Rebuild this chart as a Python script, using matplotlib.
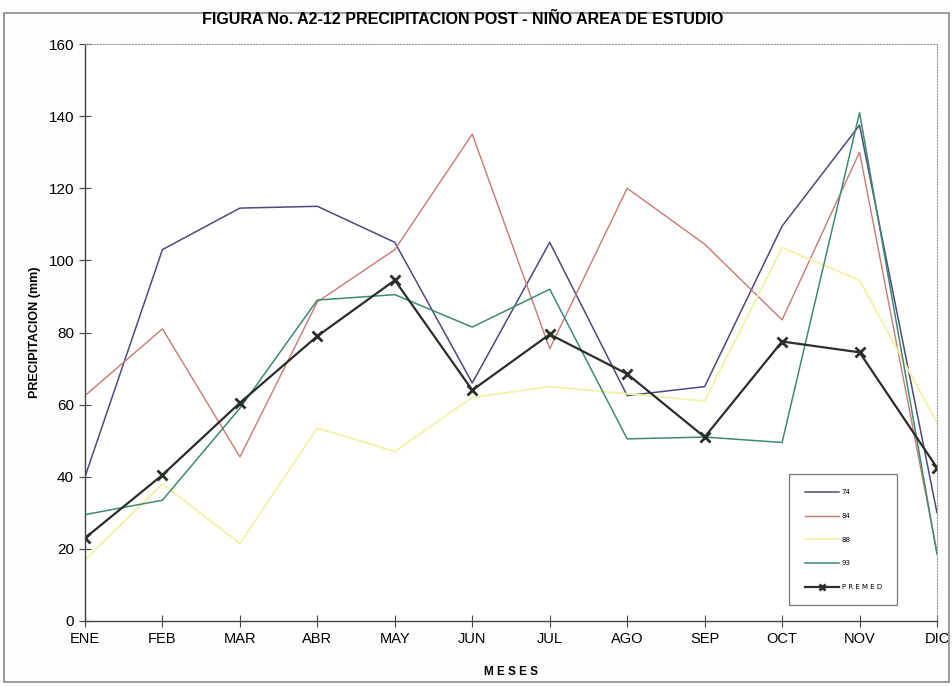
import matplotlib.pyplot as plt
from matplotlib.patches import Rectangle
from matplotlib import font_manager

meses = ['ENE', 'FEB', 'MAR', 'ABR', 'MAY', 'JUN', 'JUL', 'AGO', 'SEP', 'OCT', 'NOV', 'DIC']

p74 = [40, 103, 114.5, 115, 105, 66, 105, 62.5, 65, 109.5, 137.5, 30]
p84 = [62.5, 81, 45.5, 88.5, 103, 135, 75.5, 120, 104.5, 83.5, 130, 19]
p88 = [17, 38, 21.5, 53.5, 47, 62, 65, 63, 61, 103.5, 94.5, 55]
p93 = [29.5, 33.5, 59, 89, 90.5, 81.5, 92, 50.5, 51, 49.5, 141, 18.5]
premed = [23, 40.5, 60.5, 79, 94.5, 64, 79.5, 68.5, 51, 77.5, 74.5, 42.5]

names = [f.name for f in font_manager.fontManager.ttflist]
narrow = 'Liberation Sans Narrow' if 'Liberation Sans Narrow' in names else 'Liberation Sans'

fig = plt.figure(figsize=(9.53, 6.86), dpi=100)
fig.patch.set_facecolor('#fdfdfb')
fig.add_artist(Rectangle((0.004, 0.006), 0.992, 0.975, transform=fig.transFigure,
                         fill=False, edgecolor='#8a8a8a', linewidth=1.2))

ax = fig.add_axes([0.0892, 0.0948, 0.894, 0.841])
ax.set_facecolor('white')
x = list(range(len(meses)))

ax.plot(x, p74, color='#4b4b7d', lw=1.1, label='74')
ax.plot(x, p84, color='#c97a72', lw=1.0, label='84')
ax.plot(x, p88, color='#f2f2a6', lw=1.3, label='88')
ax.plot(x, p93, color='#3f8a70', lw=1.1, label='93')
ax.plot(x, premed, color='#2a2f2a', lw=1.6, marker='x', ms=7, mew=2, label='P R E M E D')

ax.set_xlim(0, 11)
ax.set_ylim(0, 160)
ax.set_yticks(range(0, 161, 20))
ax.set_xticks(x)
ax.set_xticklabels(meses, fontfamily=narrow, fontsize=10.5)
for t in ax.get_yticklabels():
    t.set_fontfamily('Liberation Sans')
    t.set_fontsize(11)
ax.tick_params(direction='inout', length=8, width=0.8, color='#444444', pad=4)

for s in ['left', 'bottom']:
    ax.spines[s].set_color('#444444')
    ax.spines[s].set_linewidth(1.0)
for s in ['top', 'right']:
    ax.spines[s].set_color('#999999')
    ax.spines[s].set_linewidth(0.8)
    ax.spines[s].set_linestyle(':')

ax.set_xlabel('M E S E S', fontfamily='Liberation Sans', fontweight='bold', fontsize=8.5, labelpad=14)
ax.set_ylabel('PRECIPITACION (mm)', fontfamily='Liberation Sans', fontweight='bold', fontsize=9, labelpad=5)

fig.text(0.486, 0.972, 'FIGURA No. A2-12 PRECIPITACION POST - NIÑO AREA DE ESTUDIO',
         ha='center', va='center', fontfamily=narrow, fontweight='bold', fontsize=11.5)

leg = ax.legend(loc='lower right', bbox_to_anchor=(0.953, 0.027), frameon=True, fancybox=False,
                edgecolor='#555555', fontsize=5, labelspacing=2.55, handlelength=5.0,
                borderpad=2.2, handletextpad=0.3, borderaxespad=0)
leg.get_frame().set_linewidth(0.9)
for line in leg.get_lines():
    line.set_markersize(5)

fig.savefig('out.png', dpi=100, facecolor=fig.get_facecolor())
